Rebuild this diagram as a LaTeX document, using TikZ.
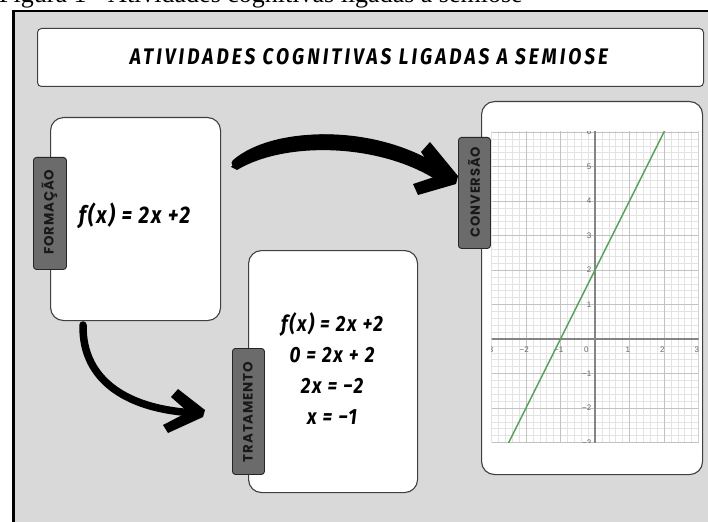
\documentclass[tikz,border=0pt]{standalone}
\usepackage{fontspec}
\usepackage{graphicx}
\setmainfont{Liberation Serif}
\newfontfamily\titlefont[LetterSpace=16]{Fira Sans}
\newfontfamily\formfont[LetterSpace=9]{Fira Sans}
\newfontfamily\tabfont[LetterSpace=6]{Poppins}
\newfontfamily\grfont{Liberation Sans}
\definecolor{bggray}{HTML}{D9D9D9}
\definecolor{tabgray}{HTML}{6B6B6B}
\definecolor{cardline}{HTML}{3F3F3F}
\definecolor{plotgreen}{HTML}{55A055}
\definecolor{minorgrid}{HTML}{E3E3E3}
\definecolor{majorgrid}{HTML}{C2C2C2}
\definecolor{axisgray}{HTML}{858585}
\definecolor{lblgray}{HTML}{666666}
\tikzset{
  card/.style={draw=cardline, fill=white, line width=1.1pt, rounded corners=13pt, inner sep=0pt, anchor=north west},
  titlecard/.style={draw=cardline, fill=white, line width=1pt, rounded corners=4pt, inner sep=0pt, anchor=north west},
  tabbox/.style={draw=black!85, fill=tabgray, line width=0.9pt, rounded corners=3pt, inner sep=0pt, anchor=north west},
  tablabel/.style={rotate=90, inner sep=0pt, text=black!90, font=\tabfont\bfseries\fontsize{13}{13}\selectfont},
  formula/.style={inner sep=0pt, anchor=base, font=\formfont\bfseries\itshape\fontsize{22}{22}\selectfont},
  brush/.style={line width=#1, line cap=round, draw=black},
  glbl/.style={inner sep=0pt, text=lblgray, font=\grfont\fontsize{8}{8}\selectfont},
}
\newcommand{\sq}[1]{\scalebox{0.86}[1]{#1}}
\begin{document}
\begin{tikzpicture}[x=1pt,y=-1pt]
\useasboundingbox (0,0) rectangle (708,521);
% caption (cut at the top)
\node[anchor=base west, inner sep=0pt, font=\fontsize{26}{26}\selectfont] (cap) at (-1,3) {Figura 1 - Atividades cognitivas ligadas à semiose};
% frame
\fill[bggray] (12,10) rectangle (712,525);
\draw[line width=2.6pt] (13.3,525) -- (13.3,11) -- (712,11);
% title
\node[titlecard, minimum width=666pt, minimum height=58pt] (titlebox) at (37,28) {};
\node[inner sep=0pt] (title) at (369,57) {\resizebox{478pt}{16pt}{\titlefont\bfseries\itshape ATIVIDADES COGNITIVAS LIGADAS A SEMIOSE}};
% Formacao
\node[card, minimum width=170pt, minimum height=203pt] (form) at (50,117) {};
\node[tabbox, minimum width=33pt, minimum height=112pt] (formtab) at (33,157) {};
\node[tablabel] (formlbl) at (49.5,212) {\resizebox{85pt}{!}{FORMAÇÃO}};
\node[formula, font=\formfont\bfseries\itshape\fontsize{24}{24}\selectfont] (f1) at (134.5,223) {\sq{f(x) = 2x +2}};
% Tratamento
\node[card, minimum width=169pt, minimum height=242pt] (trat) at (248,250) {};
\node[tabbox, minimum width=32pt, minimum height=126pt] (trattab) at (232,348) {};
\node[tablabel] (tratlbl) at (248,412) {\resizebox{100pt}{!}{TRATAMENTO}};
\node[formula] (t1) at (332,331) {\sq{f(x) = 2x +2}};
\node[formula] (t2) at (332,362) {\sq{0 = 2x + 2}};
\node[formula] (t3) at (332,393) {\sq{2x = −2}};
\node[formula] (t4) at (332,424) {\sq{x = −1}};
% Conversao
\node[card, minimum width=221pt, minimum height=373pt] (conv) at (481,101) {};
% graph
\begin{scope}[shift={(595,339)}, x=34.5pt, y=34.5pt]
  \clip (-3,-3) rectangle (3,6);
  \fill[white] (-3,-3) rectangle (3,6);
  \draw[minorgrid, line width=0.45pt, step=0.2] (-3.2,-3.2) grid (3.2,6.2);
  \draw[majorgrid, line width=0.7pt, step=1] (-3.2,-3.2) grid (3.2,6.2);
  \draw[axisgray, line width=1.2pt] (-3.2,0) -- (3.2,0);
  \draw[axisgray, line width=1.2pt] (0,-3.2) -- (0,6.2);
  \foreach \v/\t in {-3/-3,-2/−2,-1/−1,1/1,2/2,3/3}
    \node[glbl, anchor=north] at (\v-0.05,-0.22) {\t};
  \node[glbl, anchor=north east] at (-0.18,-0.22) {0};
  \foreach \v/\t in {-3/−3,-2/−2,-1/−1,1/1,2/2,3/3,4/4,5/5,6/6}
    \node[glbl, anchor=east] at (-0.1,\v) {\t};
  \draw[plotgreen, line width=1.4pt] (-2.6,-3.2) -- (2.1,6.2);
\end{scope}
\node[tabbox, minimum width=32pt, minimum height=111pt] (convtab) at (458,137) {};
\node[tablabel] (convlbl) at (474,192) {\resizebox{90pt}{!}{CONVERSÃO}};
% arrow 1: formacao -> conversao
\coordinate (a1s) at (235,163);
\coordinate (a1e) at (440,174);
\fill (a1s) ++(-4,4) .. controls (270,123) and (380,123) .. (446,170)
   -- (438,181) .. controls (380,143) and (285,141) .. (237,170) -- cycle;
\draw[brush=7pt] (a1s) .. controls (275,128) and (380,128) .. (a1e);
\fill (421,152) -- (430,142) -- (458,176) -- (456,184) -- (418,195) -- (413,184) -- (437,176) -- cycle;
% arrow 2: formacao -> tratamento
\coordinate (a2s) at (83,325);
\coordinate (a2e) at (196,413);
\draw[brush=7.5pt] (a2s) .. controls (82,382) and (130,410) .. (a2e);
\fill (171,397) -- (178,389) -- (205,410) -- (203,417) -- (168,433) -- (163,425) -- (188,412) -- cycle;
\end{tikzpicture}
\end{document}
